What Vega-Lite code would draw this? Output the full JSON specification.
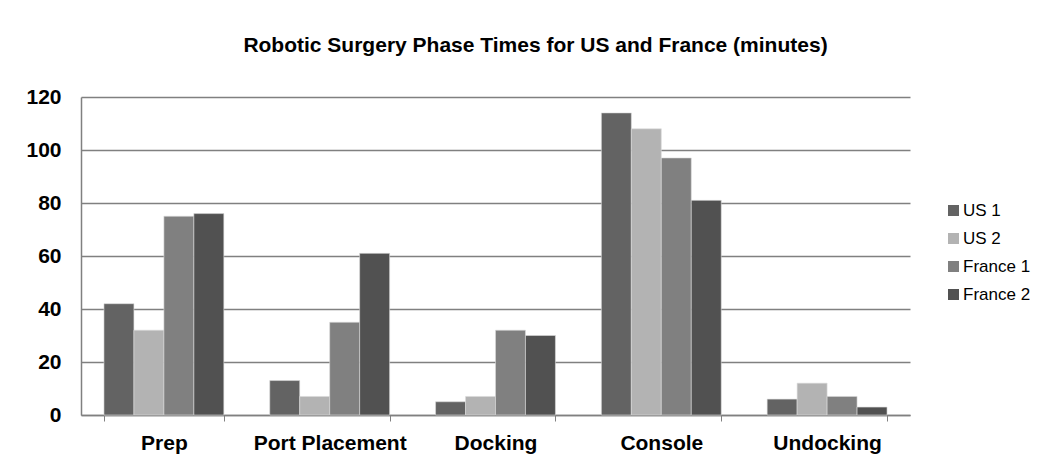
{
  "$schema": "https://vega.github.io/schema/vega-lite/v6.json",
  "autosize": {"type": "none"},
  "padding": {"left": 81, "top": 97, "right": 142, "bottom": 48},
  "width": 829,
  "height": 318,
  "background": "white",
  "title": {
    "text": "Robotic Surgery Phase Times for US and France (minutes)",
    "anchor": "middle",
    "frame": "group",
    "dx": 40,
    "offset": 13,
    "baseline": "alphabetic",
    "font": "Liberation Sans",
    "fontSize": 21,
    "fontWeight": "bold",
    "color": "#000000"
  },
  "data": {
    "values": [
      {"phase": "Prep", "series": "US 1", "minutes": 42},
      {"phase": "Prep", "series": "US 2", "minutes": 32},
      {"phase": "Prep", "series": "France 1", "minutes": 75},
      {"phase": "Prep", "series": "France 2", "minutes": 76},
      {"phase": "Port Placement", "series": "US 1", "minutes": 13},
      {"phase": "Port Placement", "series": "US 2", "minutes": 7},
      {"phase": "Port Placement", "series": "France 1", "minutes": 35},
      {"phase": "Port Placement", "series": "France 2", "minutes": 61},
      {"phase": "Docking", "series": "US 1", "minutes": 5},
      {"phase": "Docking", "series": "US 2", "minutes": 7},
      {"phase": "Docking", "series": "France 1", "minutes": 32},
      {"phase": "Docking", "series": "France 2", "minutes": 30},
      {"phase": "Console", "series": "US 1", "minutes": 114},
      {"phase": "Console", "series": "US 2", "minutes": 108},
      {"phase": "Console", "series": "France 1", "minutes": 97},
      {"phase": "Console", "series": "France 2", "minutes": 81},
      {"phase": "Undocking", "series": "US 1", "minutes": 6},
      {"phase": "Undocking", "series": "US 2", "minutes": 12},
      {"phase": "Undocking", "series": "France 1", "minutes": 7},
      {"phase": "Undocking", "series": "France 2", "minutes": 3}
    ]
  },
  "mark": {"type": "bar", "stroke": "#dcdcdc", "strokeWidth": 0.6},
  "encoding": {
    "x": {
      "field": "phase",
      "type": "nominal",
      "sort": ["Prep", "Port Placement", "Docking", "Console", "Undocking"],
      "scale": {"paddingInner": 0.277, "paddingOuter": 0.1385},
      "axis": {
        "title": null,
        "labelAngle": 0,
        "tickBand": "extent",
        "ticks": true,
        "tickSize": 6,
        "tickColor": "#808080",
        "domainColor": "#808080",
        "domainWidth": 1.5,
        "labelPadding": 11,
        "labelFont": "Liberation Sans",
        "labelFontSize": 21,
        "labelFontWeight": "bold",
        "labelColor": "#000000",
        "grid": false
      }
    },
    "xOffset": {
      "field": "series",
      "type": "nominal",
      "sort": ["US 1", "US 2", "France 1", "France 2"],
      "scale": {"paddingInner": 0, "paddingOuter": 0}
    },
    "y": {
      "field": "minutes",
      "type": "quantitative",
      "scale": {"domain": [0, 120], "nice": false},
      "axis": {
        "title": null,
        "values": [0, 20, 40, 60, 80, 100, 120],
        "ticks": false,
        "labelPadding": 20,
        "labelFont": "Liberation Sans",
        "labelFontSize": 21,
        "labelFontWeight": "bold",
        "labelColor": "#000000",
        "domainColor": "#808080",
        "domainWidth": 1.5,
        "grid": true,
        "gridColor": "#808080",
        "gridWidth": 1.3
      }
    },
    "color": {
      "field": "series",
      "type": "nominal",
      "sort": ["US 1", "US 2", "France 1", "France 2"],
      "scale": {
        "domain": ["US 1", "US 2", "France 1", "France 2"],
        "range": ["#636363", "#b3b3b3", "#808080", "#515151"]
      },
      "legend": {
        "title": null,
        "orient": "none",
        "legendX": 864,
        "legendY": 105,
        "symbolType": "square",
        "symbolSize": 121,
        "symbolStrokeWidth": 0,
        "labelFont": "Liberation Sans",
        "labelFontSize": 17,
        "labelColor": "#000000",
        "labelOffset": 1,
        "rowPadding": 10
      }
    }
  },
  "config": {
    "view": {"stroke": null}
  }
}
